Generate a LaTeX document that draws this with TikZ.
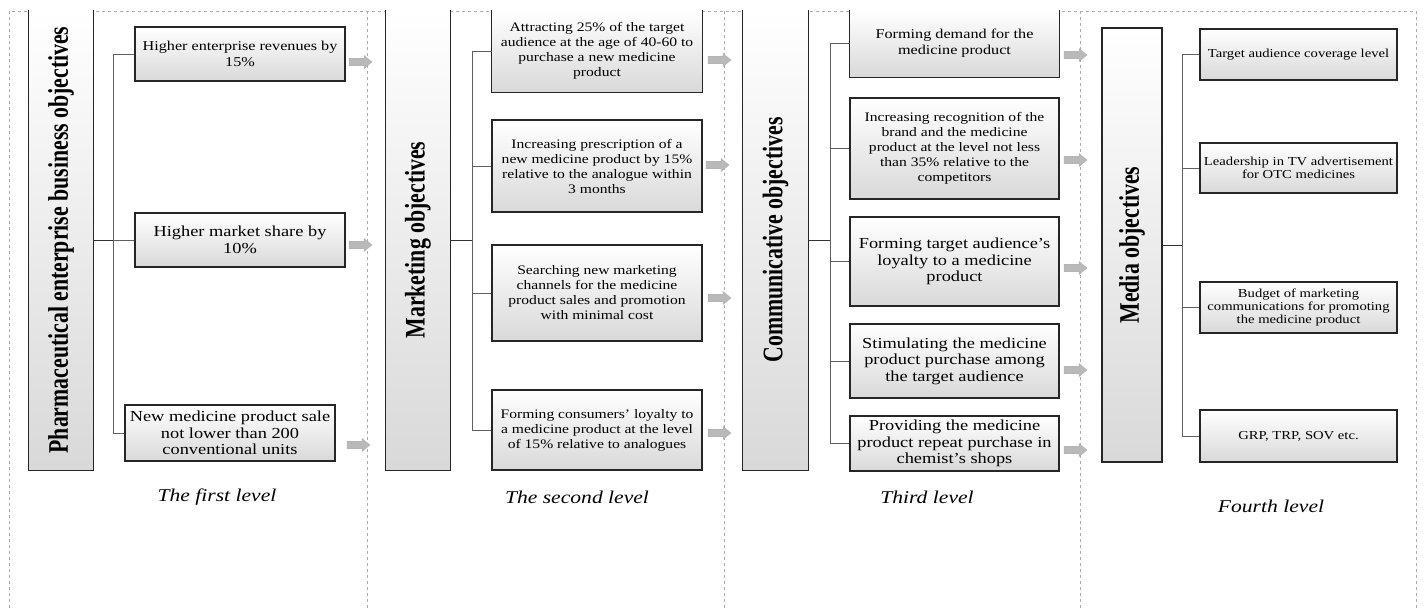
\documentclass[tikz,border=0pt]{standalone}
\usepackage{fontspec}
\setmainfont{Liberation Serif}[FakeStretch=1.2]
\newfontfamily\titlefont{Liberation Serif}
\begin{document}
\begin{tikzpicture}[x={(1pt,0)},y={(0,-1pt)},
  obox/.style={draw=black!85, line width=1.2pt, top color=white, bottom color=gray!30, align=center, inner sep=1pt},
  openbox/.style={draw=none, top color=white, bottom color=gray!30, align=center, inner sep=1pt},
  edge3/.style={draw=black!85, line width=1.2pt, line join=miter},
  link/.style={draw=gray!75!black, line width=0.8pt},
  stub/.style={draw=black!80, line width=1pt},
  frame/.style={draw=gray!65, dashed, line width=0.5pt},
  blk/.style={fill=gray!55, draw=gray!65, line width=0.3pt},
  lvl/.style={font=\itshape\fontsize{18}{20}\selectfont},
  fA/.style={font=\fontsize{13.5}{15.7}\selectfont},
  fB/.style={font=\fontsize{15.3}{16.6}\selectfont},
  fC/.style={font=\fontsize{13}{15}\selectfont},
  fD/.style={font=\fontsize{12.2}{12.8}\selectfont}]
\useasboundingbox (0,0) rectangle (1424,608);
\newcommand\ttl[1]{\rotatebox{90}{\scalebox{1}[1.3]{\titlefont\bfseries\fontsize{21.8}{24}\selectfont #1}}}
\newcommand\blkarrow[2]{\path[blk] (#1,#2) ++(0,-3.8) -- ++(15,0) -- ++(0,-2.8) -- ++(8,6.6) -- ++(-8,6.6) -- ++(0,-2.8) -- ++(-15,0) -- cycle;}
% frame
\draw[frame] (9,608) -- (9,11) -- (1416,11) -- (1416,608);
\draw[frame] (367,11) -- (367,608);
\draw[frame] (724,11) -- (724,608);
\draw[frame] (1080,11) -- (1080,608);

% ---------- level 1
\node[openbox, minimum width=64pt, minimum height=460pt] (L1) at (61,240) {\ttl{Pharmaceutical enterprise business objectives}};
\draw[edge3] (L1.north west) -- (L1.south west) -- (L1.south east) -- (L1.north east);
\node[obox, fA, minimum width=210pt, minimum height=54pt] (a1) at (240,54) {Higher enterprise revenues by\\15\%};
\node[obox, fB, minimum width=210pt, minimum height=54pt] (a2) at (240,240) {Higher market share by\\10\%};
\node[obox, fB, minimum width=210pt, minimum height=56pt] (a3) at (230,433) {New medicine product sale\\not lower than 200\\conventional units};
\coordinate (t1) at (113,240);
\draw[stub] (L1.east) -- (t1);
\draw[link] (t1) |- (a1.west);
\draw[link] (t1) -- (a2.west);
\draw[link] (t1) |- (a3.west);
\blkarrow{349}{62}
\blkarrow{349}{245}
\blkarrow{347}{445}
\node[lvl] (lv1) at (217,497) {The first level};

% ---------- level 2
\node[openbox, minimum width=64pt, minimum height=460pt] (M) at (418,240) {\ttl{Marketing objectives}};
\draw[edge3] (M.north west) -- (M.south west) -- (M.south east) -- (M.north east);
\node[openbox, fC, minimum width=210pt, minimum height=82pt] (b1) at (597,51) {Attracting 25\% of the target\\audience at the age of 40-60 to\\purchase a new medicine\\product};
\draw[edge3] (b1.north west) -- (b1.south west) -- (b1.south east) -- (b1.north east);
\node[obox, fC, minimum width=210pt, minimum height=92pt] (b2) at (597,166) {Increasing prescription of a\\new medicine product by 15\%\\relative to the analogue within\\3 months};
\node[obox, fC, minimum width=210pt, minimum height=96pt] (b3) at (597,293) {Searching new marketing\\channels for the medicine\\product sales and promotion\\with minimal cost};
\node[obox, fC, minimum width=210pt, minimum height=80pt] (b4) at (597,430) {Forming consumers’ loyalty to\\a medicine product at the level\\of 15\% relative to analogues};
\coordinate (t2) at (472,240);
\draw[stub] (M.east) -- (t2);
\draw[link] (t2) |- (b1.west);
\draw[link] (t2) |- (b2.west);
\draw[link] (t2) |- (b3.west);
\draw[link] (t2) |- (b4.west);
\blkarrow{708}{60}
\blkarrow{706}{165}
\blkarrow{708}{298}
\blkarrow{708}{433}
\node[lvl] (lv2) at (577,497) {The second level};

% ---------- level 3
\node[openbox, minimum width=65pt, minimum height=460pt] (C) at (775.5,240) {\ttl{Communicative objectives}};
\draw[edge3] (C.north west) -- (C.south west) -- (C.south east) -- (C.north east);
\node[openbox, fA, minimum width=209pt, minimum height=67pt] (c1) at (954.5,43.5) {Forming demand for the\\medicine product};
\draw[edge3] (c1.north west) -- (c1.south west) -- (c1.south east) -- (c1.north east);
\node[obox, fC, minimum width=209pt, minimum height=101pt] (c2) at (954.5,148.5) {Increasing recognition of the\\brand and the medicine\\product at the level not less\\than 35\% relative to the\\competitors};
\node[obox, fB, minimum width=209pt, minimum height=89pt] (c3) at (954.5,261.5) {Forming target audience’s\\loyalty to a medicine\\product};
\node[obox, fB, minimum width=209pt, minimum height=74pt] (c4) at (954.5,361) {Stimulating the medicine\\product purchase among\\the target audience};
\node[obox, fB, minimum width=209pt, minimum height=55pt] (c5) at (954.5,443.5) {Providing the medicine\\product repeat purchase in\\chemist’s shops};
\coordinate (t3) at (830,240);
\draw[stub] (C.east) -- (t3);
\draw[link] (t3) |- (c1.west);
\draw[link] (t3) |- (c2.west);
\draw[link] (t3) |- (c3.west);
\draw[link] (t3) |- (c4.west);
\draw[link] (t3) |- (c5.west);
\blkarrow{1064}{55}
\blkarrow{1064}{160}
\blkarrow{1064}{268}
\blkarrow{1064}{370}
\blkarrow{1064}{450}
\node[lvl] (lv3) at (927,497) {Third level};

% ---------- level 4
\node[obox, minimum width=60pt, minimum height=434pt] (D) at (1132,245) {\ttl{Media objectives}};
\node[obox, fD, minimum width=197pt, minimum height=51pt] (d1) at (1298.5,54.5) {Target audience coverage level};
\node[obox, fD, minimum width=197pt, minimum height=50pt] (d2) at (1298.5,168) {Leadership in TV advertisement\\for OTC medicines};
\node[obox, fD, minimum width=197pt, minimum height=51pt] (d3) at (1298.5,307.5) {Budget of marketing\\communications for promoting\\the medicine product};
\node[obox, fD, minimum width=197pt, minimum height=52pt] (d4) at (1298.5,436) {GRP, TRP, SOV etc.};
\coordinate (t4) at (1182,245);
\draw[stub] (D.east) -- (t4);
\draw[link] (t4) |- (d1.west);
\draw[link] (t4) |- (d2.west);
\draw[link] (t4) |- (d3.west);
\draw[link] (t4) |- (d4.west);
\node[lvl] (lv4) at (1271,506) {Fourth level};
\end{tikzpicture}
\end{document}
